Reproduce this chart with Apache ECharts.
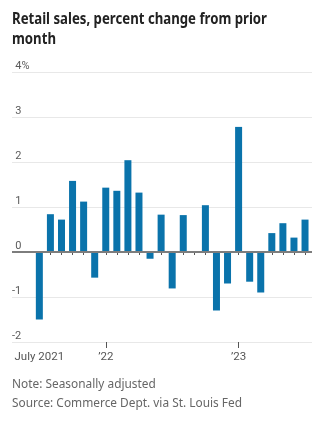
<!DOCTYPE html>
<html>
<head>
<meta charset="utf-8">
<script src="https://cdn.jsdelivr.net/npm/echarts@6/dist/echarts.min.js"></script>
<style>
  html, body { margin: 0; padding: 0; background: #fff; }
  #chart { width: 325px; height: 432px; }
</style>
</head>
<body>
<div id="chart"></div>
<script>
// Monthly retail sales, percent change from prior month (seasonally adjusted)
const months = [
  '2021-07', '2021-08', '2021-09', '2021-10', '2021-11', '2021-12',
  '2022-01', '2022-02', '2022-03', '2022-04', '2022-05', '2022-06',
  '2022-07', '2022-08', '2022-09', '2022-10', '2022-11', '2022-12',
  '2023-01', '2023-02', '2023-03', '2023-04', '2023-05', '2023-06',
  '2023-07'
];
const pctChange = [
  -1.50, 0.84, 0.72, 1.58, 1.12, -0.57,
  1.43, 1.36, 2.04, 1.32, -0.15, 0.83,
  -0.81, 0.82, -0.02, 1.04, -1.30, -0.70,
  2.78, -0.66, -0.90, 0.42, 0.64, 0.32,
  0.72
];
const xTickLabels = { '2021-07': 'July 2021', '2022-01': '\u201922', '2023-01': '\u201923' };
const titleLines = ['Retail sales, percent change from prior', 'month'];
const footerLines = ['Note: Seasonally adjusted', 'Source: Commerce Dept. via St. Louis Fed'];

const LABEL_FONT = "Roboto, 'Noto Sans', sans-serif";
const TITLE_FONT = "bold 16px 'Noto Sans', 'Open Sans', sans-serif";
const FOOT_FONT = "12px 'Noto Sans', 'Open Sans', sans-serif";
const BLUE = '#0a73ab';

// Horizontal squeeze so a line of text spans a given width (condensed look)
const measureCtx = document.createElement('canvas').getContext('2d');
function squeezeTo(text, font, width) {
  measureCtx.font = font;
  return width / measureCtx.measureText(text).width;
}

const idx = months.map((m, i) => i);
const labelIdx = months.map((m, i) => (xTickLabels[m] ? i : -1)).filter(i => i >= 0);
const majorIdx = labelIdx.filter(i => i > 0);

const xMin = -2.47, xMax = 24.63;

const chart = echarts.init(document.getElementById('chart'), null, { renderer: 'canvas' });
chart.setOption({
  animation: false,
  backgroundColor: '#fff',
  grid: [
    { left: 12, right: 13, top: 72, height: 270, containLabel: false },
    { left: 12, right: 13, top: 341, height: 1, containLabel: false }
  ],
  xAxis: [
    {
      type: 'value', gridIndex: 0, min: xMin, max: xMax,
      axisLine: { show: false },
      splitLine: { show: false },
      axisTick: { show: true, customValues: idx, length: 3, lineStyle: { color: '#555', width: 1 } },
      axisLabel: {
        show: true, customValues: labelIdx, margin: 9,
        fontFamily: LABEL_FONT, fontSize: 11.5, color: '#555',
        formatter: v => xTickLabels[months[Math.round(v)]] || ''
      }
    },
    {
      type: 'value', gridIndex: 1, min: xMin, max: xMax, position: 'bottom',
      axisLine: { show: false },
      splitLine: { show: false },
      axisTick: { show: true, customValues: majorIdx, length: 6, lineStyle: { color: '#555', width: 1 } },
      axisLabel: { show: false }
    }
  ],
  yAxis: [
    {
      type: 'value', gridIndex: 0, min: -2, max: 4, interval: 1,
      axisLine: { show: false },
      axisTick: { show: false },
      splitLine: { show: true, lineStyle: { color: '#e8e8e8', width: 1 } },
      axisLabel: {
        inside: true, margin: 0, align: 'left', verticalAlign: 'bottom',
        fontFamily: LABEL_FONT, fontSize: 11, color: '#5a5a5a', padding: [0, 0, 0, 0],
        formatter: v => (v < 0 ? String(v) : '{p| }' + (v === 4 ? '4%' : v)),
        rich: { p: { width: 3.3, fontFamily: LABEL_FONT, fontSize: 11 } }
      }
    },
    {
      type: 'value', gridIndex: 1, min: 0, max: 1,
      show: false
    }
  ],
  series: [
    {
      type: 'bar',
      xAxisIndex: 0, yAxisIndex: 0,
      barWidth: 7,
      itemStyle: { color: BLUE },
      data: pctChange.map((v, i) => [i, v]),
      markLine: {
        silent: true,
        symbol: 'none',
        label: { show: false },
        lineStyle: { color: '#7d7d7d', width: 2, type: 'solid' },
        data: [{ yAxis: 0 }]
      }
    }
  ],
  graphic: [
    {
      type: 'text', x: 12, y: 9,
      scaleX: squeezeTo(titleLines[0], TITLE_FONT, 255),
      style: {
        text: titleLines.join('\n'),
        font: TITLE_FONT, fill: '#222', lineHeight: 20, verticalAlign: 'top'
      }
    },
    {
      type: 'text', x: 12, y: 375,
      scaleX: squeezeTo(footerLines[1], FOOT_FONT, 230),
      style: {
        text: footerLines.join('\n'),
        font: FOOT_FONT, fill: '#666', lineHeight: 19, verticalAlign: 'top'
      }
    }
  ]
});
</script>
</body>
</html>
